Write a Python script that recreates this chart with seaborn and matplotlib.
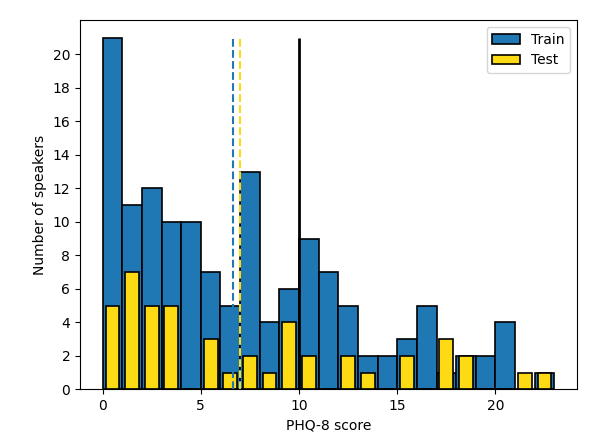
import numpy as np
import pandas as pd
import matplotlib
matplotlib.use("Agg")
import matplotlib.pyplot as plt
import seaborn as sns

# PHQ-8 scores (bin starts) and number of speakers per score
scores = np.arange(0, 23)
train_counts = [21, 11, 12, 10, 10, 7, 5, 13, 4, 6, 9, 7, 5, 2, 2, 3, 5, 1, 2, 2, 4, 0, 1]
test_counts = [5, 7, 5, 5, 0, 3, 1, 2, 1, 4, 2, 0, 2, 1, 0, 2, 0, 3, 2, 0, 0, 1, 1]
threshold = 10

train_color = "#1f77b4"
test_color = "#fcda14"

def crear_histograma():
    datos_train = pd.DataFrame({"score": scores + 0.5, "count": train_counts})
    datos_test = pd.DataFrame({"score": scores + 0.5, "count": test_counts})

    fig = plt.figure(figsize=(6.14, 4.42), dpi=100)
    ax = fig.add_axes([80 / 614, (442 - 389.3) / 442, 497 / 614, 369.3 / 442])

    # Histogramas (cuentas como pesos)
    sns.histplot(data=datos_train, x="score", weights="count", binwidth=1, binrange=(0, 23),
                 ax=ax, color=train_color, alpha=1, edgecolor="black", linewidth=1.2,
                 shrink=1, label="Train")
    sns.histplot(data=datos_test, x="score", weights="count", binwidth=1, binrange=(0, 23),
                 ax=ax, color=test_color, alpha=1, edgecolor="black", linewidth=1.2,
                 shrink=0.7, label="Test")

    # Medias y umbral
    train_mean = np.average(scores, weights=train_counts)
    test_mean = np.average(scores, weights=test_counts)
    ax.vlines(train_mean, 0, 21, colors=train_color, linestyles="--", linewidth=1.5)
    ax.vlines(test_mean, 0, 21, colors=test_color, linestyles="--", linewidth=1.5)
    ax.vlines(threshold, 0, 21, colors="black", linewidth=2)

    ax.set_xlim(-1.15, 24.15)
    ax.set_ylim(0, 22.05)
    ax.set_yticks(range(0, 21, 2))
    ax.set_xlabel("PHQ-8 score")
    ax.set_ylabel("Number of speakers")
    ax.legend(loc="upper right")

    fig.savefig("out.png", dpi=100)

if __name__ == "__main__":
    crear_histograma()
